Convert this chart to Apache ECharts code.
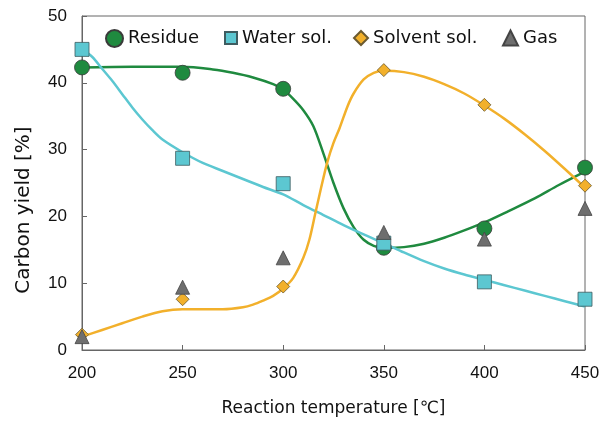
<!DOCTYPE html>
<html><head><meta charset="utf-8">
<script src="https://cdn.jsdelivr.net/npm/echarts@6/dist/echarts.min.js"></script>
<style>html,body{margin:0;padding:0;background:#fff}#c{width:610px;height:423px}</style>
</head><body><div id="c"></div>
<script>
var temps = [200, 250, 300, 350, 400, 450];
var residue = [42.3, 41.5, 39.1, 15.3, 18.2, 27.3];
var waterSol = [45.0, 28.7, 24.9, 16.0, 10.2, 7.6];
var solventSol = [2.3, 7.6, 9.5, 41.9, 36.7, 24.6];
var gas = [2.0, 9.4, 13.8, 17.6, 16.6, 21.2];

// fitted curves: [temperature, value]
var residueFit = [[200,42.3],[225,42.4],[250,42.4],[265,42.0],[275,41.5],[285,40.8],[295,39.8],[300,39.0],[305,37.6],[310,35.9],[315,33.5],[320,29.4],[325,25.0],[330,21.2],[335,18.4],[340,16.5],[345,15.6],[350,15.3],[360,15.4],[370,15.9],[380,16.8],[390,17.9],[400,19.1],[412,20.8],[425,22.7],[437,24.7],[450,26.7]];
var waterFit = [[200,45.0],[205,43.9],[210,42.1],[215,40.3],[220,38.3],[225,36.3],[230,34.5],[235,32.9],[240,31.5],[250,29.6],[260,28.0],[270,26.8],[280,25.6],[290,24.4],[300,23.3],[310,21.7],[320,20.2],[330,18.7],[340,17.3],[350,16.0],[360,14.6],[370,13.3],[380,12.2],[390,11.3],[400,10.5],[410,9.7],[420,8.9],[430,8.1],[440,7.3],[450,6.5]];
var solventFit = [[200,2.0],[210,3.0],[220,4.0],[230,5.0],[240,5.8],[250,6.1],[260,6.1],[270,6.1],[280,6.4],[285,6.8],[290,7.4],[295,8.1],[300,9.2],[305,10.8],[310,13.8],[313,16.5],[316,20.5],[319,24.5],[322,28.2],[325,31.0],[328,33.2],[332,36.5],[335,38.4],[340,40.5],[345,41.5],[350,41.8],[360,41.6],[370,40.9],[380,39.8],[390,38.4],[400,36.6],[410,34.6],[420,32.3],[430,29.8],[440,27.1],[450,24.3]];

var yTicks = [0, 10, 20, 30, 40, 50];
var xTicks = [200, 250, 300, 350, 400, 450];

function pts(vals){ return temps.map(function(t,i){ return [t, vals[i]]; }); }

var GREEN = '#1f8a3f', CYAN = '#5cc7d1', ORANGE = '#f2b02b', GREY = '#6e6e6e';
var FONT = 'DejaVu Sans';
var TICKFONT = 'Liberation Sans';

function legendItem(name, icon, left, size){
  return {
    top: 29, left: left, padding: 0, itemWidth: size, itemHeight: size,
    textStyle: {fontFamily: FONT, fontSize: 18, color: '#111'},
    data: [{name: name, icon: icon}]
  };
}

var chart = echarts.init(document.getElementById('c'), null, {renderer: 'canvas'});
chart.setOption({
  animation: false,
  textStyle: {fontFamily: FONT},
  grid: {left: 82, right: 25, top: 16, bottom: 73, show: true, borderColor: '#666', borderWidth: 1, backgroundColor: 'transparent'},
  legend: [
    legendItem('Residue', 'circle', 105, 17),
    legendItem('Water sol.', 'rect', 224, 12),
    legendItem('Solvent sol.', 'diamond', 353, 14),
    legendItem('Gas', 'triangle', 502, 15)
  ],
  xAxis: {
    type: 'value', min: 200, max: 450, interval: 50,
    name: 'Reaction temperature [℃]', nameLocation: 'middle', nameGap: 50,
    nameTextStyle: {fontFamily: FONT, fontSize: 17, color: '#111'},
    axisLine: {lineStyle: {color: '#666'}},
    axisTick: {inside: true, length: 5, lineStyle: {color: '#666'}},
    axisLabel: {fontFamily: TICKFONT, fontSize: 17, color: '#111', margin: 15,
      formatter: function(v){ return xTicks.indexOf(v) >= 0 ? String(v) : ''; }},
    splitLine: {show: false}
  },
  yAxis: {
    type: 'value', min: 0, max: 50, interval: 10,
    name: 'Carbon yield [%]', nameLocation: 'middle', nameGap: 48,
    nameTextStyle: {fontFamily: FONT, fontSize: 20, color: '#111', padding: [0, 54, 0, 0]},
    axisLine: {show: true, lineStyle: {color: '#666'}},
    axisTick: {show: true, inside: true, length: 5, lineStyle: {color: '#666'}},
    axisLabel: {fontFamily: TICKFONT, fontSize: 17, color: '#111', margin: 15,
      formatter: function(v){ return yTicks.indexOf(v) >= 0 ? String(v) : ''; }},
    splitLine: {show: false}
  },
  series: [
    {name: 'ResidueFit', type: 'line', data: residueFit, smooth: 0.3, showSymbol: false, symbol: 'none', lineStyle: {color: GREEN, width: 2.5}, z: 2, silent: true},
    {name: 'WaterFit', type: 'line', data: waterFit, smooth: 0.3, showSymbol: false, symbol: 'none', lineStyle: {color: CYAN, width: 2.5}, z: 2, silent: true},
    {name: 'SolventFit', type: 'line', data: solventFit, smooth: 0.3, showSymbol: false, symbol: 'none', lineStyle: {color: ORANGE, width: 2.5}, z: 2, silent: true},
    {name: 'Residue', type: 'scatter', data: pts(residue), symbol: 'circle', symbolSize: 15, itemStyle: {color: GREEN, borderColor: '#3a3a3a', borderWidth: 0.8, opacity: 1}, z: 3},
    {name: 'Water sol.', type: 'scatter', data: pts(waterSol), symbol: 'rect', symbolSize: 14, itemStyle: {color: CYAN, borderColor: '#3e5c60', borderWidth: 0.8, opacity: 1}, z: 4},
    {name: 'Solvent sol.', type: 'scatter', data: pts(solventSol), symbol: 'diamond', symbolSize: 13, itemStyle: {color: ORANGE, borderColor: '#6b5a30', borderWidth: 0.8, opacity: 1}, z: 5},
    {name: 'Gas', type: 'scatter', data: pts(gas), symbol: 'triangle', symbolSize: 14, itemStyle: {color: GREY, borderColor: '#444', borderWidth: 0.8, opacity: 1}, z: 6}
  ]
});
</script></body></html>
